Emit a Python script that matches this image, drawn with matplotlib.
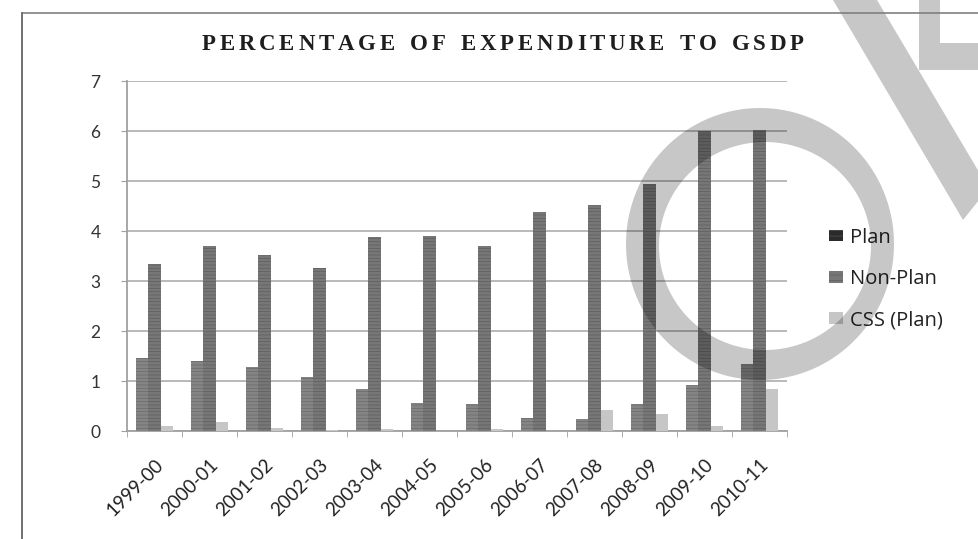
import numpy as np
import matplotlib
matplotlib.use("Agg")
import matplotlib.pyplot as plt
from matplotlib.patches import Patch, Polygon, PathPatch
from matplotlib.path import Path

# ---- data ----
years = ["1999-00", "2000-01", "2001-02", "2002-03", "2003-04", "2004-05",
         "2005-06", "2006-07", "2007-08", "2008-09", "2009-10", "2010-11"]
plan = [1.47, 1.40, 1.29, 1.09, 0.85, 0.57, 0.55, 0.27, 0.25, 0.55, 0.93, 1.35]
non_plan = [3.35, 3.71, 3.53, 3.27, 3.89, 3.90, 3.71, 4.39, 4.53, 4.95, 6.01, 6.02]
css_plan = [0.11, 0.18, 0.07, 0.03, 0.05, 0.01, 0.05, 0.00, 0.43, 0.35, 0.11, 0.85]
series_names = ["Plan", "Non-Plan", "CSS (Plan)"]
yticks = [0, 1, 2, 3, 4, 5, 6, 7]
title = "PERCENTAGE OF EXPENDITURE TO GSDP"

W, H = 979, 539
plt.rcParams["hatch.linewidth"] = 0.5
fig = plt.figure(figsize=(W / 100, H / 100), dpi=100)
fig.patch.set_facecolor("white")

ax = fig.add_axes([127 / W, 1 - 431 / H, 660 / W, 350 / H])
x = np.arange(len(years))
bw = 0.22
ax.bar(x - bw, plan, bw, color="#858585", edgecolor="#6a6a6a", hatch="-----", linewidth=0, zorder=3)
ax.bar(x, non_plan, bw, color="#777777", edgecolor="#5e5e5e", hatch="-----", linewidth=0, zorder=3)
ax.bar(x + bw, css_plan, bw, color="#c6c6c6", linewidth=0, zorder=3)

ax.set_xlim(-0.5, len(years) - 0.5)
ax.set_ylim(0, 7)
ax.set_yticks(yticks)
ax.set_yticklabels([str(v) for v in yticks], fontfamily="Lato", fontsize=12.5, color="#333333")
ax.yaxis.grid(True, color="#b3b3b3", linewidth=1.3, zorder=0)
ax.set_axisbelow(True)
for s in ["top", "right"]:
    ax.spines[s].set_visible(False)
for s in ["left", "bottom"]:
    ax.spines[s].set_color("#a0a0a0")
    ax.spines[s].set_linewidth(1.3)
ax.tick_params(axis="y", length=4, color="#a0a0a0", pad=15)
ax.set_xticks(x)
ax.set_xticklabels(years, rotation=45, ha="right", va="top", rotation_mode="anchor",
                   fontfamily="Lato", fontsize=13.5, color="#222222")
ax.tick_params(axis="x", which="major", length=0, pad=18)
ax.set_xticks(np.arange(-0.5, len(years), 1.0), minor=True)
ax.tick_params(axis="x", which="minor", length=4, color="#a0a0a0")

# legend
handles = [Patch(facecolor="#2a2a2a", edgecolor="#555555", hatch="---", linewidth=0),
           Patch(facecolor="#777777", edgecolor="#5e5e5e", hatch="---", linewidth=0),
           Patch(facecolor="#c6c6c6", linewidth=0)]
fig.legend(handles, series_names, loc="center left", bbox_to_anchor=(829 / W, 1 - 279 / H),
           frameon=False, prop={"family": "Open Sans", "size": 14.5}, handlelength=0.7,
           handleheight=0.5, handletextpad=0.35, labelspacing=1.05, borderpad=0,
           borderaxespad=0, labelcolor="#222222")

# letter-spaced title spanning x 202..804 px
x0, x1, ty = 202, 804, 45
renderer = fig.canvas.get_renderer()
tprops = dict(fontfamily="Liberation Serif", fontweight="bold", fontsize=16.5, color="#1e1e1e")
widths = []
for ch in title:
    tt = fig.text(0, 0, ch if ch != " " else "n", **tprops)
    wpx = tt.get_window_extent(renderer).width
    if ch == " ":
        wpx *= 0.6
    widths.append(wpx)
    tt.remove()
extra = (x1 - x0 - sum(widths)) / (len(title) - 1)
cx = x0
for ch, wpx in zip(title, widths):
    if ch != " ":
        fig.text(cx / W, 1 - ty / H, ch, ha="left", va="center", **tprops)
    cx += wpx + extra

# overlay: frame lines and watermark (pixel coordinates)
ov = fig.add_axes([0, 0, 1, 1], zorder=10)
ov.set_xlim(0, W)
ov.set_ylim(H, 0)
ov.axis("off")
ov.patch.set_alpha(0)
ov.plot([22, W], [13, 13], color="#808080", lw=1.2)
ov.plot([22, 22], [13, H], color="#707070", lw=1.4)

t = np.linspace(0, 2 * np.pi, 200)
outer = np.column_stack([760 + 134 * np.cos(t), 244 + 136 * np.sin(t)])
inner = np.column_stack([765 + 106 * np.cos(t), 246 + 104 * np.sin(t)])[::-1]
verts = np.vstack([outer, outer[:1], inner, inner[:1]])
codes = ([Path.MOVETO] + [Path.LINETO] * (len(outer) - 1) + [Path.CLOSEPOLY]) * 2
ov.add_patch(PathPatch(Path(verts, codes), facecolor="black", alpha=0.22, linewidth=0))
ov.add_patch(Polygon([(833, 0), (877, 0), (979, 172), (979, 200), (963, 220)],
                     closed=True, facecolor="black", alpha=0.22, linewidth=0))
ov.add_patch(Polygon([(919, 0), (940, 0), (940, 43), (979, 43), (979, 70), (919, 70)],
                     closed=True, facecolor="black", alpha=0.22, linewidth=0))

fig.savefig("out.png", dpi=100, facecolor="white")
